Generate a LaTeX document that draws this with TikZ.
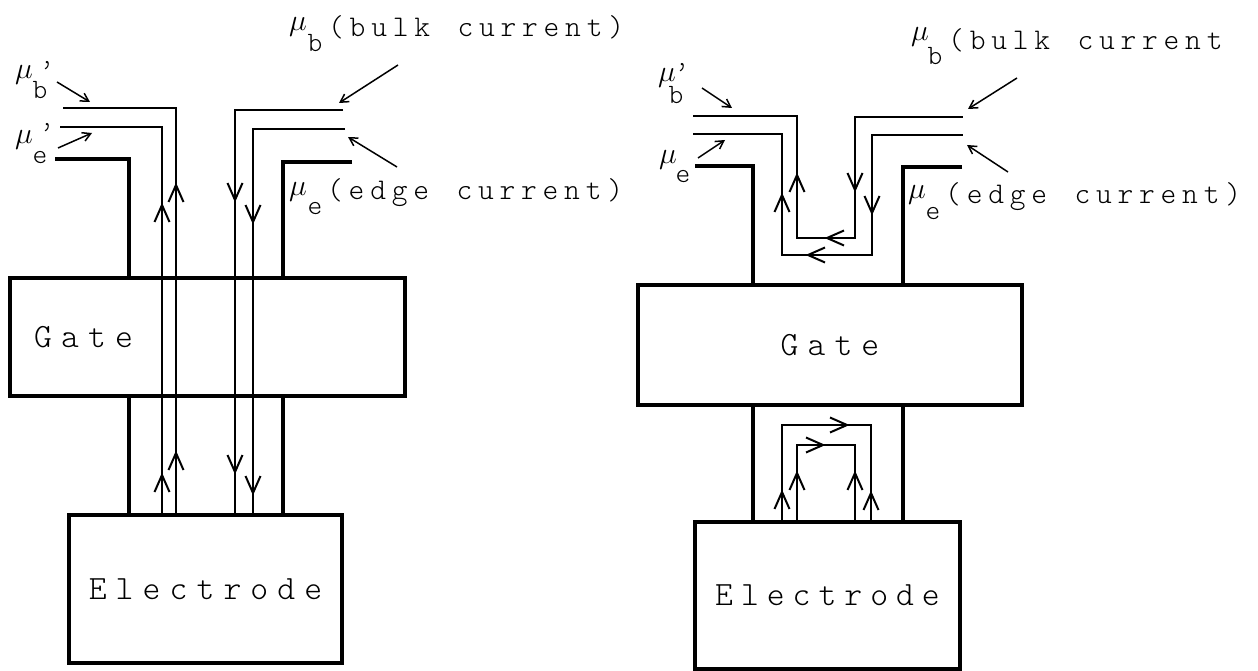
\documentclass[tikz,border=0pt]{standalone}
\usepackage{fontspec}
\usetikzlibrary{arrows.meta}
\newfontfamily\lttfont{lmmonolt10-regular.otf}
\makeatletter
\def\sp@end{\sp@end@}
\newcommand\spaced[2]{\begingroup\def\sp@k{#1}\sp@loop#2\sp@end\kern-\sp@k\endgroup}
\def\sp@loop#1{\ifx#1\sp@end\else#1\kern\sp@k\expandafter\sp@loop\fi}
\makeatother
\newcommand\arU[2]{\draw[cur] ({#1-7.5},{#2+17}) -- (#1,#2) -- ({#1+7.5},{#2+17});}
\newcommand\arD[2]{\draw[cur] ({#1-7.5},{#2-17}) -- (#1,#2) -- ({#1+7.5},{#2-17});}
\newcommand\arL[2]{\draw[cur] ({#1+17},{#2-7.5}) -- (#1,#2) -- ({#1+17},{#2+7.5});}
\newcommand\arR[2]{\draw[cur] ({#1-17},{#2-7.5}) -- (#1,#2) -- ({#1-17},{#2+7.5});}
\newcommand\lbltxt[1]{\spaced{5.8pt}{#1}}
\newcommand\boxtxtL[1]{\spaced{9.1pt}{#1}}
\newcommand\mus{\scalebox{1.45}{$\mu$}}
\tikzset{
  wall/.style={line width=3.3pt},
  cur/.style={line width=2pt},
  box/.style={draw, line width=3.3pt, inner sep=0pt},
  ptr/.style={line width=1.5pt, -{Straight Barb[length=8pt,width=9pt]}},
  lbl/.style={font=\fontsize{30}{30}\selectfont\lttfont, anchor=west, inner sep=0pt},
  boxtxt/.style={font=\fontsize{34}{34}\selectfont\lttfont},
  mu/.style={font=\fontsize{20}{20}\selectfont, inner sep=0pt},
  sub/.style={font=\fontsize{28}{28}\selectfont\lttfont, inner sep=0pt},
}
\begin{document}
\begin{tikzpicture}[x=1pt,y=-1pt]
\fill[white] (0,0) rectangle (1258,671);
\useasboundingbox (0,0) rectangle (1258,671);
% ---------- LEFT ----------
\node[box, minimum width=395pt, minimum height=118pt] (gateL) at (207.5,337) {};
\node[boxtxt, anchor=west, inner sep=0pt] (gateLt) at (34,337) {\boxtxtL{Gate}};
\node[box, boxtxt, minimum width=273pt, minimum height=148pt] (elecL) at (205.5,589) {\boxtxtL{Electrode}};
\draw[wall] (55,159) -- (129,159) -- (129,278);
\draw[wall] (352,162) -- (283,162) -- (283,278);
\draw[wall] (129,396) -- (129,515);
\draw[wall] (283,396) -- (283,515);
\draw[cur] (63,108) -- (176,108) -- (176,515);
\draw[cur] (60,127) -- (162,127) -- (162,515);
\draw[cur] (343,110) -- (235,110) -- (235,515);
\draw[cur] (345,129) -- (253,129) -- (253,515);
\arU{162}{205} \arU{176}{185} \arD{235}{200} \arD{253}{222}
\arU{162}{475} \arU{176}{453} \arD{235}{472} \arD{253}{493}
\node[mu] (muBpL) at (24,75) {\mus};
\node[sub] (bpL) at (40,90) {b};
\node[sub, anchor=north] (pbL) at (47,61) {’};
\draw[ptr] (57,82) -- (90,102);
\node[mu] (muEpL) at (24,140) {\mus};
\node[sub] (epL) at (40,158) {e};
\node[sub, anchor=north] (peL) at (47,123) {’};
\draw[ptr] (58,148) -- (92,133);
\node[mu] (muBL) at (298,27) {\mus};
\node[sub] (bL) at (315,43) {b};
\node[lbl] (bulkL) at (328,27) {\lbltxt{(bulk~current)}};
\draw[ptr] (398,65) -- (339,103);
\node[mu] (muEL) at (298,192) {\mus};
\node[sub] (eL) at (315,209) {e};
\node[lbl] (edgeL) at (327,193) {\lbltxt{(edge~current)}};
\draw[ptr] (397,167) -- (348,137);
% ---------- RIGHT ----------
\node[box, boxtxt, minimum width=384pt, minimum height=120pt] (gateR) at (830,345) {\boxtxtL{Gate}};
\node[box, boxtxt, minimum width=265pt, minimum height=147pt] (elecR) at (827.5,595.5) {\spaced{8pt}{Electrode}};
\draw[wall] (695,166) -- (753,166) -- (753,285);
\draw[wall] (962,167) -- (903,167) -- (903,285);
\draw[wall] (753,405) -- (753,522);
\draw[wall] (903,405) -- (903,522);
\draw[cur] (693,116) -- (797,116) -- (797,238) -- (855,238) -- (855,117) -- (963,117);
\draw[cur] (693,134) -- (782,134) -- (782,255) -- (872,255) -- (872,135) -- (963,135);
\arU{797}{175} \arU{782}{195} \arD{855}{190} \arD{872}{213} \arL{827}{238} \arL{808}{255}
\draw[cur] (782,522) -- (782,425) -- (871,425) -- (871,522);
\draw[cur] (797,522) -- (797,445) -- (855,445) -- (855,522);
\arU{782}{492} \arU{797}{473} \arU{855}{473} \arU{871}{493} \arR{847}{425} \arR{823}{445}
\node[mu] (muBpR) at (667,78) {\mus};
\node[sub] (bpR) at (676,95) {b};
\node[sub, anchor=north] (pbR) at (682,63) {’};
\draw[ptr] (702,88) -- (732,108);
\node[mu] (muER) at (668,160) {\mus};
\node[sub] (eR) at (683,177) {e};
\draw[ptr] (698,158) -- (725,140);
\node[mu] (muBR) at (920,37) {\mus};
\node[sub] (bR) at (935,56) {b};
\node[lbl] (bulkR) at (948,40) {\lbltxt{(bulk~current}};
\draw[ptr] (1017,78) -- (968,109);
\node[mu] (muEdR) at (917,195) {\mus};
\node[sub] (edR) at (933,214) {e};
\node[lbl] (edgeR) at (945,197) {\lbltxt{(edge~current)}};
\draw[ptr] (1008,172) -- (967,145);
\end{tikzpicture}
\end{document}
